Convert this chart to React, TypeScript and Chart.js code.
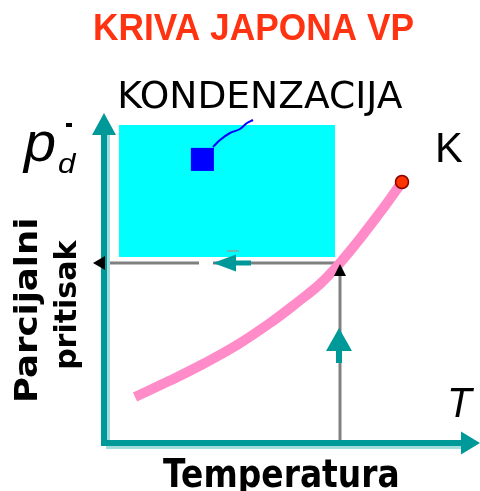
import React, { useEffect, useRef } from "react";
import { Chart, registerables } from "chart.js";

Chart.register(...registerables);

// ---- texts ----
const titleText = "KRIVA JAPONA VP";
const regionLabel = "KONDENZACIJA";
const xAxisTitle = "Temperatura";
const yAxisTitle1 = "Parcijalni";
const yAxisTitle2 = "pritisak";
const xSymbol = "T";
const ySymbol = "p";
const ySub = "d";
const criticalLabel = "K";

// ---- data (T, p in diagram units) ----
const curveT = [7.75, 16.5, 24.75, 33.25, 41.5, 48.25, 54, 59, 64, 69, 74.5];
const curveP = [11.5, 15.6, 19.75, 24.5, 30, 35.1, 39.75, 45, 51.1, 57.6, 65.25];
const criticalPoint = [74.5, 65.25];
const statePoint = [59, 45];
const guideGap = [23.75, 27.25];
const condensationBox = [3.75, 57.75, 46.5, 79.5]; // Tmin, Tmax, pmin, pmax
const markerPoint = [24.6, 70.9];
const leaderT = [27.25, 29, 31.5, 34, 35.75, 37.25];
const leaderP = [74, 75.75, 77.5, 78.5, 80, 80.75];
const leftArrowT = [27.25, 36.75]; // tip, tail
const upArrowP = [28.75, 20]; // tip, tail
const axisXMax = 94;
const axisYMax = 82.5;
const scaleXMax = 94;
const scaleYMax = 110.75;

const TEAL = "#009999";
const TEAL_LIGHT = "#a3dcdc";

function fitInk(ctx: CanvasRenderingContext2D, text: string, font: string, x0: number, x1: number, y0: number, y1: number, color: string) {
  ctx.save();
  ctx.font = font;
  ctx.textAlign = "left";
  ctx.textBaseline = "alphabetic";
  const m = ctx.measureText(text);
  const l = m.actualBoundingBoxLeft, r = m.actualBoundingBoxRight;
  const a = m.actualBoundingBoxAscent, d = m.actualBoundingBoxDescent;
  const sx = (x1 - x0) / (l + r);
  const sy = (y1 - y0) / (a + d);
  ctx.translate(x0 + l * sx, y0 + a * sy);
  ctx.scale(sx, sy);
  ctx.fillStyle = color;
  ctx.fillText(text, 0, 0);
  ctx.restore();
}

function fitBase(ctx: CanvasRenderingContext2D, text: string, font: string, x0: number, x1: number, top: number, base: number, color: string) {
  ctx.save();
  ctx.font = font;
  ctx.textAlign = "left";
  ctx.textBaseline = "alphabetic";
  const m = ctx.measureText(text);
  const l = m.actualBoundingBoxLeft, r = m.actualBoundingBoxRight;
  const a = m.actualBoundingBoxAscent;
  const sx = (x1 - x0) / (l + r);
  const sy = (base - top) / a;
  ctx.translate(x0 + l * sx, base);
  ctx.scale(sx, sy);
  ctx.fillStyle = color;
  ctx.fillText(text, 0, 0);
  ctx.restore();
}

function head(ctx: CanvasRenderingContext2D, tx: number, ty: number, dx: number, dy: number, len: number, hw: number, color: string) {
  const bx = tx - dx * len, by = ty - dy * len;
  const nx = -dy, ny = dx;
  ctx.beginPath();
  ctx.moveTo(tx, ty);
  ctx.lineTo(bx + nx * hw, by + ny * hw);
  ctx.lineTo(bx - nx * hw, by - ny * hw);
  ctx.closePath();
  ctx.fillStyle = color;
  ctx.fill();
}

function line(ctx: CanvasRenderingContext2D, x0: number, y0: number, x1: number, y1: number, w: number, color: string) {
  ctx.beginPath();
  ctx.moveTo(x0, y0);
  ctx.lineTo(x1, y1);
  ctx.lineWidth = w;
  ctx.strokeStyle = color;
  ctx.lineCap = "butt";
  ctx.stroke();
}

const diagramPlugin = {
  id: "diagram",
  beforeDatasetsDraw(chart: any) {
    const ctx = chart.ctx as CanvasRenderingContext2D;
    const sx = chart.scales.x, sy = chart.scales.y;
    const X = (v: number) => sx.getPixelForValue(v);
    const Y = (v: number) => sy.getPixelForValue(v);
    ctx.save();
    ctx.fillStyle = "#00ffff";
    const bx0 = X(condensationBox[0]), bx1 = X(condensationBox[1]);
    const by0 = Y(condensationBox[3]), by1 = Y(condensationBox[2]);
    ctx.fillRect(bx0, by0, bx1 - bx0, by1 - by0);
    const gy = Y(statePoint[1]);
    const gx = X(statePoint[0]);
    line(ctx, X(0), gy, X(guideGap[0]), gy, 3, "#808080");
    line(ctx, X(guideGap[1]), gy, gx + 1.5, gy, 3, "#808080");
    line(ctx, gx, gy, gx, Y(0), 3, "#808080");
    ctx.restore();
  },
  afterDatasetsDraw(chart: any) {
    const ctx = chart.ctx as CanvasRenderingContext2D;
    const sx = chart.scales.x, sy = chart.scales.y;
    const X = (v: number) => sx.getPixelForValue(v);
    const Y = (v: number) => sy.getPixelForValue(v);
    ctx.save();
    const ox = X(0), oy = Y(0);
    line(ctx, ox + 4.5, oy + 3, ox + 4.5, Y(axisYMax) + 22, 3, TEAL_LIGHT);
    line(ctx, ox + 2, oy + 4.5, X(axisXMax) - 18, oy + 4.5, 3, TEAL_LIGHT);
    line(ctx, ox, oy + 3, ox, Y(axisYMax) + 20, 6, TEAL);
    line(ctx, ox - 3, oy, X(axisXMax) - 16, oy, 6, TEAL);
    head(ctx, ox, Y(axisYMax), 0, -1, 22, 12, TEAL);
    head(ctx, X(axisXMax), oy, 1, 0, 19, 11.5, TEAL);

    const gy = Y(statePoint[1]);
    const gx = X(statePoint[0]);
    head(ctx, X(0) - 11, gy, -1, 0, 12, 7, "#000000");
    head(ctx, gx, gy + 1, 0, -1, 12, 6, "#000000");

    const lt = X(leftArrowT[0]), ll = X(leftArrowT[1]);
    line(ctx, lt + 18, gy, ll, gy, 5, TEAL);
    head(ctx, lt, gy, -1, 0, 23, 8.5, TEAL);
    line(ctx, lt + 14, gy - 12, lt + 26, gy - 12, 2, "#66bbbb");
    const ut = Y(upArrowP[0]), ub = Y(upArrowP[1]);
    line(ctx, gx - 1, ut + 18, gx - 1, ub, 6, TEAL);
    head(ctx, gx - 1, ut, 0, -1, 23, 13, TEAL);
    ctx.restore();
  },
  afterDraw(chart: any) {
    const ctx = chart.ctx as CanvasRenderingContext2D;
    ctx.save();
    fitInk(ctx, titleText, "bold 36px 'Liberation Sans'", 95, 413, 14, 40, "#ff3311");
    fitBase(ctx, regionLabel, "40px 'DejaVu Sans'", 120, 403, 79, 108, "#000000");
    fitInk(ctx, criticalLabel, "40px 'Liberation Sans'", 438, 463, 132, 162, "#000000");
    fitInk(ctx, ySymbol, "italic 56px 'Liberation Sans'", 22, 55, 132, 173, "#000000");
    fitInk(ctx, ySub, "italic 28px 'Liberation Sans'", 58, 77, 153, 173, "#000000");
    ctx.fillStyle = "#000000";
    ctx.fillRect(66, 123, 6, 4);
    fitInk(ctx, xSymbol, "italic 42px 'Liberation Sans'", 450, 475, 387, 417, "#000000");
    fitBase(ctx, xAxisTitle, "bold 37px 'DejaVu Sans'", 163, 398, 458, 487, "#000000");
    ctx.save();
    ctx.rotate(-Math.PI / 2);
    fitInk(ctx, yAxisTitle1, "bold 36px 'DejaVu Sans'", -400, -220, 13, 43, "#000000");
    fitInk(ctx, yAxisTitle2, "bold 32px 'DejaVu Sans'", -368, -240, 53, 83, "#000000");
    ctx.restore();
    ctx.restore();
  },
};

export default function App() {
  const ref = useRef<HTMLCanvasElement | null>(null);
  useEffect(() => {
    if (!ref.current) return;
    const chart = new Chart(ref.current, {
      type: "scatter",
      data: {
        datasets: [
          {
            type: "line",
            data: curveT.map((t, i) => ({ x: t, y: curveP[i] })),
            borderColor: "#ff8cc8",
            borderWidth: 10,
            pointRadius: 0,
            tension: 0.4,
            fill: false,
            clip: false,
            order: 3,
          } as any,
          {
            type: "line",
            data: leaderT.map((t, i) => ({ x: t, y: leaderP[i] })),
            borderColor: "#0000ff",
            borderWidth: 2,
            pointRadius: 0,
            tension: 0.3,
            fill: false,
            clip: false,
            order: 2,
          } as any,
          {
            data: [{ x: markerPoint[0], y: markerPoint[1] }],
            pointStyle: "rect",
            pointRadius: 16.3,
            backgroundColor: "#0000ff",
            borderWidth: 0,
            clip: false,
            order: 1,
          } as any,
          {
            data: [{ x: criticalPoint[0], y: criticalPoint[1] }],
            pointRadius: 6.5,
            backgroundColor: "#ff3300",
            borderColor: "#880000",
            borderWidth: 1.5,
            clip: false,
            order: 0,
          } as any,
        ],
      },
      options: {
        animation: false,
        responsive: false,
        events: [],
        layout: { padding: { left: 104, right: 0, top: 0, bottom: 48 }, autoPadding: false } as any,
        plugins: { legend: { display: false }, tooltip: { enabled: false }, title: { display: false } },
        scales: {
          x: { type: "linear", min: 0, max: scaleXMax, display: false },
          y: { type: "linear", min: 0, max: scaleYMax, display: false },
        },
      },
      plugins: [diagramPlugin],
    });
    return () => chart.destroy();
  }, []);
  return (
    <div style={{ position: "absolute", left: 0, top: 0, width: 480, height: 491, background: "#ffffff" }}>
      <canvas ref={ref} width={480} height={491} style={{ display: "block", width: 480, height: 491 }} />
    </div>
  );
}
